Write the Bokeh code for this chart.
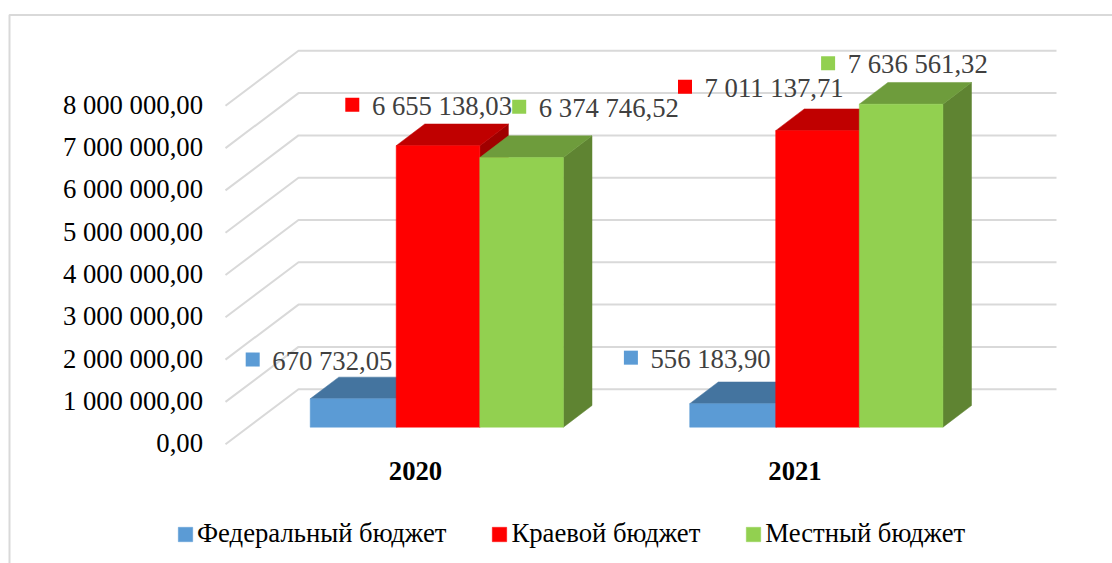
from bokeh.plotting import figure
from bokeh.models import Range1d, FixedTicker, Legend, LegendItem
from bokeh.core.properties import value
from bokeh.embed import file_html
from bokeh.resources import INLINE

CATEGORIES = ["2020", "2021"]
SERIES = ["Федеральный бюджет", "Краевой бюджет", "Местный бюджет"]
FEDERAL = [670732.05, 556183.90]
REGIONAL = [6655138.03, 7011137.71]
LOCAL = [6374746.52, 7636561.32]
TICKS = [0, 1000000, 2000000, 3000000, 4000000, 5000000, 6000000, 7000000, 8000000]

FRONT = ["#5B9BD5", "#FF0000", "#92D050"]
TOP = ["#44749F", "#C00000", "#6E9C3C"]
SIDE = ["#3A6690", "#A00000", "#5F8432"]
GRID = "#D9D9D9"
FONT = "Liberation Serif"
FS = "26.7px"

W, H = 1112, 563
ORIGIN = 0
PX_X = 379.5            # px per category step
PX_Y = 42.3 / 1e6       # px per unit of value
X0 = 395.7              # screen x of the regional bar in the first group
Y0 = 426.7              # screen y of the bars' zero
BAR = 83.6
DEPTH_X, DEPTH_Y = 28.6, 21.7

xd = lambda sx: (sx - X0) / PX_X
yd = lambda sy: (Y0 - sy) / PX_Y
dx = lambda px: px / PX_X
dy = lambda px: px / PX_Y

x_start, x_end = xd(ORIGIN), xd(ORIGIN + W)
y_start, y_end = yd(ORIGIN + H), yd(ORIGIN)

p = figure(width=W, height=H, output_backend="svg", toolbar_location=None,
           x_range=Range1d(x_start, x_end), y_range=Range1d(y_start, y_end),
           min_border=0, min_border_left=0, min_border_right=0, min_border_top=0, min_border_bottom=0,
           background_fill_color="white", border_fill_color="white", outline_line_color=None)
p.grid.visible = False

# secondary scales for the tick labels, which sit on the front of the floor
TICK_SHIFT = 17.0 / PX_Y
LABEL_SHIFT = 16.0 / PX_Y
p.extra_y_ranges = {"front": Range1d(y_start + LABEL_SHIFT, y_end + LABEL_SHIFT)}
LABEL_X0 = 415.0
p.extra_x_ranges = {"years": Range1d(2020 + (ORIGIN - LABEL_X0) / PX_X, 2020 + (ORIGIN + W - LABEL_X0) / PX_X)}

yax = p.yaxis[0]
yax.y_range_name = "front"
yax.fixed_location = xd(202.5)
yax.ticker = FixedTicker(ticks=TICKS)
yax.major_label_overrides = {t: f"{t:,.2f}".replace(",", " ").replace(".", ",") for t in TICKS}
yax.axis_line_color = None
yax.major_tick_line_color = None
yax.minor_tick_line_color = None
yax.major_tick_out = 0
yax.major_tick_in = 0
yax.major_label_standoff = 0
yax.major_label_text_font = FONT
yax.major_label_text_font_size = FS
yax.major_label_text_color = "#000000"

xax = p.xaxis[0]
xax.x_range_name = "years"
xax.fixed_location = yd(461.5)
xax.ticker = FixedTicker(ticks=[int(c) for c in CATEGORIES])
xax.major_label_overrides = {int(c): c for c in CATEGORIES}
xax.axis_line_color = None
xax.major_tick_line_color = None
xax.minor_tick_line_color = None
xax.major_tick_out = 0
xax.major_tick_in = 0
xax.major_label_standoff = 0
xax.major_label_text_font = FONT
xax.major_label_text_font_size = FS
xax.major_label_text_font_style = "bold"
xax.major_label_text_color = "#000000"

# outer frame
p.line([xd(9), xd(9), x_end], [y_start, yd(14.5), yd(14.5)], line_color=GRID, line_width=2)

# gridlines: floor diagonal, then along the back wall
grid_left, grid_back, grid_right = xd(225), xd(298), xd(1056)
BACK_SHIFT = 38.0 / PX_Y
gx, gy = [], []
for t in TICKS:
    gx.append([grid_left, grid_back, grid_right])
    gy.append([t - TICK_SHIFT, t + BACK_SHIFT, t + BACK_SHIFT])
p.multi_line(gx, gy, line_color=GRID, line_width=2)

# bars
groups = [FEDERAL, REGIONAL, LOCAL]
group_off = [-86.0, 0.0, 83.6]
bar_w = [86.6, BAR, BAR]
bar_left = {}
d_x, d_y = dx(DEPTH_X), dy(DEPTH_Y)
legend_renderers = []
for c in range(len(CATEGORIES)):
    for s, vals in enumerate(groups):
        l = c + dx(group_off[s])
        r = l + dx(bar_w[s])
        v = vals[c]
        bar_left[(c, s)] = l
        p.patch([r, r + d_x, r + d_x, r], [0, d_y, v + d_y, v],
                fill_color=SIDE[s], line_color=SIDE[s], line_width=0.5)
        p.patch([l, l + d_x, r + d_x, r], [v, v + d_y, v + d_y, v],
                fill_color=TOP[s], line_color=TOP[s], line_width=0.5)
        q = p.quad(left=l, right=r, bottom=0, top=v,
                   fill_color=FRONT[s], line_color=FRONT[s], line_width=0.5)
        if c == 0:
            legend_renderers.append(q)

# data labels, placed relative to the top-left corner of each bar
LABEL_DX = [[-37.9, -24.3, 59.0], [-39.2, -71.1, -11.6]]
LABEL_DY = [[-29.0, -30.7, -40.6], [-35.7, -33.6, -30.7]]
MARK_DX, MARK_DY = -19.6, -10.3
TEXT_MID = -9.0
for c in range(len(CATEGORIES)):
    for s, vals in enumerate(groups):
        v = vals[c]
        tx = bar_left[(c, s)] + dx(LABEL_DX[c][s])
        ty = v - dy(LABEL_DY[c][s])
        p.scatter([tx + dx(MARK_DX)], [ty - dy(MARK_DY)], marker="square", size=14,
                  fill_color=FRONT[s], line_color=None)
        label = f"{v:,.2f}".replace(",", " ").replace(".", ",")
        p.text([tx], [ty - dy(TEXT_MID)], text=[label], text_font=value(FONT), text_font_size=FS,
               text_color="#404040", text_align="left", text_baseline="middle")

legend = Legend(items=[LegendItem(label=n, renderers=[r]) for n, r in zip(SERIES, legend_renderers)],
                orientation="horizontal", location=(176, 14),
                background_fill_alpha=0, border_line_color=None, margin=0, padding=0,
                glyph_width=18, glyph_height=18, label_standoff=3, spacing=44,
                label_text_font=FONT, label_text_font_size=FS, label_text_color="#000000",
                click_policy="none")
p.add_layout(legend, "center")

open("out.html", "w").write(file_html(p, INLINE))
